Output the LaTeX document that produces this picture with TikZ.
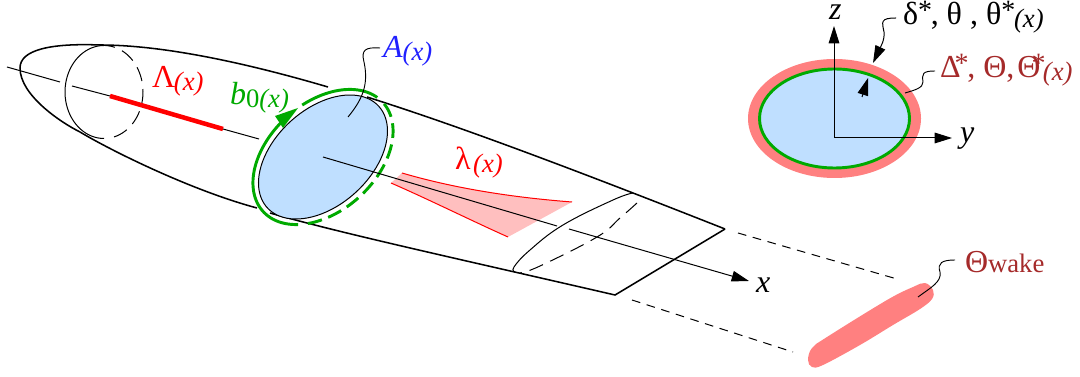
\documentclass[tikz,border=0pt]{standalone}
\usepackage{fontspec}
\setmainfont{Liberation Serif}
\usetikzlibrary{arrows.meta}
\definecolor{skyfill}{HTML}{BFDFFF}
\definecolor{halo}{HTML}{FF8080}
\definecolor{wedge}{HTML}{FFBFBF}
\definecolor{bgreen}{HTML}{00AA00}
\definecolor{brick}{HTML}{A52A2A}
\definecolor{ablue}{HTML}{2020FF}
\newcommand{\fsz}[1]{\fontsize{#1}{#1}\selectfont}
\newcommand{\argx}{\raisebox{-2pt}{\fsz{20}\textit{(x)}}}
\newcommand{\stt}{\raisebox{4pt}{\fsz{21}*}\hspace{-1pt}}
\tikzset{
  thinl/.style={line width=0.75pt},
  body/.style={line width=1.15pt},
  leader/.style={line width=0.7pt},
  lbl/.style={anchor=base west,inner sep=0pt,outer sep=0pt},
  tip/.style={-{Triangle[length=13pt,width=8pt]}},
  dashA/.style={dash pattern=on 11pt off 6pt},
  dashB/.style={dash pattern=on 6.5pt off 5pt},
  gr/.style={bgreen,line width=2.2pt},
}
\begin{document}
\begin{tikzpicture}[x=0.75pt,y=-0.75pt]
\useasboundingbox (0,0) rectangle (1080,377);
% coordinates
\coordinate (C) at (323,157);
\coordinate (R) at (834.5,118.5);
\coordinate (O) at (834,138);
\coordinate (Zt) at (834,26);
\coordinate (Yt) at (952,138);
% wedge
\fill[wedge] (402,173) .. controls (460,190) and (520,198) .. (572,202) -- (508,237) .. controls (470,220) and (430,200) .. (391,183) -- cycle;
\draw[red,thinl] (402,173) .. controls (460,190) and (520,198) .. (572,202);
\draw[red,thinl] (508,237) .. controls (470,220) and (430,200) .. (391,183);
% body
\draw[body] (328,87) .. controls (260,67) and (170,45) .. (100,45) .. controls (50,43) and (20,50) .. (20,68) .. controls (20,95) and (60,122) .. (80,132) .. controls (110,150) and (190,190) .. (257,208);
\draw[body,line join=miter] (270,213) .. controls (340,233) and (450,257) .. (615,295) -- (725,229);
\draw[body] (725,229) .. controls (520,148) and (430,117) .. (367,97);
% front ring
\draw[thinl] plot[domain=90:270,samples=40,smooth,variable=\t] ({104+39*cos(\t)},{92+46.5*sin(\t)});
\draw[thinl,dashA] plot[domain=-75:88,samples=40,smooth,variable=\t] ({104+39*cos(\t)},{92-46.5*sin(\t)});
% axis
\draw[thinl] (7,67) -- (60,82);
\draw[thinl] (72,86) -- (110,96);
\draw[red,line width=3.4pt] (110,96) -- (223,129);
\draw[thinl] (223,129) -- (259,139);
% section
\fill[skyfill] plot[domain=0:360,samples=90,variable=\t] ({323+75.4*cos(\t)*cos(42.3)-48.2*sin(\t)*sin(42.3)},{157-75.4*cos(\t)*sin(42.3)-48.2*sin(\t)*cos(42.3)}) -- cycle;
\draw[thinl] plot[domain=0:360,samples=90,variable=\t] ({323+75.4*cos(\t)*cos(42.3)-48.2*sin(\t)*sin(42.3)},{157-75.4*cos(\t)*sin(42.3)-48.2*sin(\t)*cos(42.3)}) -- cycle;
\draw[gr] plot[domain=8:76,samples=30,variable=\t] ({323+81*cos(\t)*cos(42.3)-54*sin(\t)*sin(42.3)},{157-81*cos(\t)*sin(42.3)-54*sin(\t)*cos(42.3)});
\draw[gr] plot[domain=90:218,samples=50,variable=\t] ({323+81*cos(\t)*cos(42.3)-54*sin(\t)*sin(42.3)},{157-81*cos(\t)*sin(42.3)-54*sin(\t)*cos(42.3)});
\draw[gr,dash pattern=on 11pt off 5pt] plot[domain=-2:-135,samples=60,variable=\t] ({323+81*cos(\t)*cos(42.3)-54*sin(\t)*sin(42.3)},{157-81*cos(\t)*sin(42.3)-54*sin(\t)*cos(42.3)});
\fill[bgreen] (298,108) -- (275,116) -- (283,128) -- cycle;
% axis continued
\draw[thinl] (C) -- (557,226);
\draw[thinl,tip] (569,229) -- (749,281);
% rear ring
\draw[thinl] plot[smooth,tension=0.7] coordinates {(515,272) (514,267) (530,250) (563,225) (613,200) (633,193)};
\draw[thinl,dashA] plot[smooth,tension=0.7] coordinates {(637,203) (620,218) (597,237) (540,266) (520,273)};
% wake projection
\draw[thinl,dashB] (738,233) -- (897,279);
\draw[thinl,dashB] (632,300) -- (793,352);
\fill[halo] plot[smooth cycle,tension=0.6] coordinates {(913,287) (925,283) (933,290) (932,299) (920,309) (893,325) (860,345) (823,365) (812,367) (808,360) (812,348) (827,337) (887,300)};
% right section
\fill[halo] (R) ellipse [x radius=86.5,y radius=59.5];
\fill[skyfill] (R) ellipse [x radius=75,y radius=49.5];
\draw[gr] (R) ellipse [x radius=75,y radius=49.5];
\draw[thinl,tip] (O) -- (Zt);
\draw[thinl,tip] (O) -- (Yt);
% labels
\node[lbl,ablue] (lblA) at (383,58) {\fsz{24}\textit{A}\argx};
\node[lbl,red] (lblL) at (152,88) {\fsz{24}Λ\hspace{-1pt}\argx};
\node[lbl,bgreen] (lblb) at (230,105) {\fsz{24}\textit{b}\raisebox{-2pt}{\fsz{20}0\textit{(x)}}};
\node[lbl,red] (lbll) at (455,170) {\fsz{24}λ\hspace{2pt}\argx};
\node[lbl] (lblx) at (756,292) {\fsz{24}\textit{x}};
\node[lbl] (lbly) at (960,143) {\fsz{24}\textit{y}};
\node[lbl] (lblz) at (829,20) {\fsz{24}\textit{z}};
\node[lbl] (lbld) at (903,25) {\fsz{24}δ\stt, θ , θ\stt\argx};
\node[lbl,brick] (lblD) at (940,78) {\fsz{24}Δ\hspace{-4.5pt}\stt, Θ, \hspace{-3.7pt}Θ\hspace{-6.7pt}\stt\hspace{-1pt}\argx};
\node[lbl,brick] (lblw) at (965,273) {\fsz{24}Θ\fsz{20}wake};
% leaders
\coordinate (lA) at (380,48);
\coordinate (lAe) at (348,117);
\draw[leader] (lA) .. controls (365,47) and (361,50) .. (364,62) .. controls (369,85) and (362,100) .. (lAe);
\coordinate (ld) at (896,18);
\coordinate (lde) at (873,63);
\draw[thinl,tip] (ld) .. controls (880,18) and (882,22) .. (884,32) .. controls (885,40) and (880,48) .. (lde);
\coordinate (lD) at (935,71);
\coordinate (lDe) at (905,93);
\draw[leader] (lD) .. controls (922,71) and (922,74) .. (923,82) .. controls (923,88) and (915,90) .. (lDe);
\coordinate (lw) at (955,260);
\coordinate (lwe) at (918,297);
\draw[leader] (lw) .. controls (942,260) and (937,263) .. (940,272) .. controls (942,282) and (930,288) .. (lwe);
\coordinate (sa) at (862,97);
\coordinate (sb) at (868,78);
\draw[thinl,tip] (sa) -- (sb);
\end{tikzpicture}
\end{document}
